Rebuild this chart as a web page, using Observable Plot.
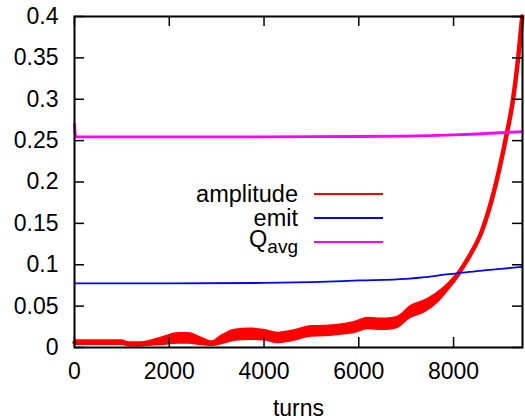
<!DOCTYPE html>
<html><head><meta charset="utf-8">
<script src="https://cdn.jsdelivr.net/npm/d3@7"></script>
<script src="https://cdn.jsdelivr.net/npm/@observablehq/plot@0.6"></script>
<style>
html,body{margin:0;padding:0;background:#fff;}
#wrap{width:525px;height:420px;}
</style></head><body><div id="wrap"></div>
<script>
// ---- data ----
const ampTurns  = [0, 500, 1000, 1150, 1400, 1800, 2200, 2400, 2700, 2900, 3100, 3400, 3700, 4000, 4300, 4600, 5000, 5300, 5600, 5900, 6200, 6500, 6800, 7100, 7400, 7700, 7900, 8100, 8300, 8600, 8850, 9100, 9250, 9360, 9450];
const ampValues = [0.006, 0.006, 0.006, 0.004, 0.004, 0.007, 0.011, 0.011, 0.007, 0.0045, 0.009, 0.015, 0.016, 0.015, 0.0115, 0.014, 0.0195, 0.02, 0.0215, 0.024, 0.029, 0.028, 0.03, 0.043, 0.05, 0.062, 0.074, 0.089, 0.107, 0.141, 0.188, 0.252, 0.298, 0.348, 0.40];
const ampSpread = [0.0035, 0.0035, 0.0035, 0.003, 0.003, 0.005, 0.007, 0.007, 0.005, 0.0035, 0.006, 0.0075, 0.0075, 0.007, 0.007, 0.007, 0.007, 0.007, 0.007, 0.0075, 0.0075, 0.0075, 0.0075, 0.008, 0.008, 0.007, 0.005, 0.003, 0.002, 0.001, 0.001, 0.001, 0.001, 0.001, 0.001];

const emitTurns  = [0, 2000, 4000, 5000, 6000, 7000, 7400, 7800, 8200, 8600, 9000, 9450];
const emitValues = [0.0775, 0.0775, 0.078, 0.079, 0.081, 0.083, 0.085, 0.088, 0.0905, 0.093, 0.095, 0.0975];

const qTurns  = [0, 20, 1000, 3000, 5000, 6000, 7000, 7500, 8000, 8500, 9000, 9450];
const qValues = [0.270, 0.2545, 0.2545, 0.2545, 0.2548, 0.255, 0.2555, 0.256, 0.257, 0.258, 0.2595, 0.261];

const xTicks = [0, 2000, 4000, 6000, 8000];
const xTickLabels = ["0", "2000", "4000", "6000", "8000"];
const yTicks = [0, 0.05, 0.1, 0.15, 0.2, 0.25, 0.3, 0.35, 0.4];
const yTickLabels = ["0", "0.05", "0.1", "0.15", "0.2", "0.25", "0.3", "0.35", "0.4"];
const xLabel = "turns";
const legendNames = ["amplitude", "emit", "Q"];
const legendSub = ["", "", "avg"];
const legendColors = ["#ff0000", "#0000ff", "#ff00ff"];
const xMax = 9455;

// ---- tables ----
const ampRows = ampTurns.map((t, i) => ({t, v: ampValues[i], lo: ampValues[i] - ampSpread[i], hi: ampValues[i] + ampSpread[i]}));
const emitRows = emitTurns.map((t, i) => ({t, v: emitValues[i]}));
const qRows = qTurns.map((t, i) => ({t, v: qValues[i]}));

const font = "'Liberation Sans', Arial, Helvetica, sans-serif";
const W = 525, H = 420, mT = 16, mL = 74, mR = 3, mB = 73;
const plotW = W - mL - mR, plotH = H - mT - mB, tick = 10;

const chart = Plot.plot({
  width: W, height: H,
  marginTop: mT, marginLeft: mL, marginRight: mR, marginBottom: mB,
  style: {fontFamily: font, fontSize: "23px", color: "#000", background: "#fff", overflow: "visible"},
  x: {domain: [0, xMax]},
  y: {domain: [0, 0.4]},
  marks: [
    Plot.areaY(ampRows, {x: "t", y1: "lo", y2: "hi", fill: legendColors[0], curve: "monotone-x"}),
    Plot.line(ampRows, {x: "t", y: "v", stroke: legendColors[0], strokeWidth: 4.5, curve: "monotone-x"}),
    Plot.line(emitRows, {x: "t", y: "v", stroke: legendColors[1], strokeWidth: 1.8, curve: "monotone-x"}),
    Plot.line(qRows, {x: "t", y: "v", stroke: legendColors[2], strokeWidth: 2.8}),
    // inward ticks on all four sides
    Plot.tickX(xTicks, {x: d => d, insetTop: plotH - tick, stroke: "#000", strokeWidth: 1.5}),
    Plot.tickX(xTicks, {x: d => d, insetBottom: plotH - tick, stroke: "#000", strokeWidth: 1.5}),
    Plot.tickY(yTicks, {y: d => d, insetRight: plotW - tick, stroke: "#000", strokeWidth: 1.5}),
    Plot.tickY(yTicks, {y: d => d, insetLeft: plotW - tick, stroke: "#000", strokeWidth: 1.5}),
    Plot.frame({stroke: "#000", strokeWidth: 2}),
    Plot.axisX(xTicks, {anchor: "bottom", tickSize: 0, tickPadding: 15,
      tickFormat: d => xTickLabels[xTicks.indexOf(d)], label: null}),
    Plot.axisY(yTicks, {anchor: "left", tickSize: 0, tickPadding: 16,
      tickFormat: d => yTickLabels[yTicks.indexOf(d)], label: null}),
    Plot.text([xLabel], {text: d => d, frameAnchor: "bottom", dy: 68, lineAnchor: "bottom", fontSize: 23})
  ]
});
document.getElementById("wrap").appendChild(chart);

// ---- legend (inside the SVG) ----
const svg = d3.select(chart);
const leg = svg.append("g").attr("font-family", font).attr("font-size", 23.5).attr("fill", "#000");
legendNames.forEach((name, i) => {
  const y = 194 + 24 * i;
  leg.append("line").attr("x1", 314).attr("x2", 383).attr("y1", y).attr("y2", y)
    .attr("stroke", legendColors[i]).attr("stroke-width", 1.8);
  const t = leg.append("text").attr("x", 298).attr("y", y + (legendSub[i] ? 5 : 8)).attr("text-anchor", "end").text(name);
  if (legendSub[i]) t.append("tspan").attr("dy", 6).attr("font-size", 19).text(legendSub[i]);
});
</script>
</body></html>
